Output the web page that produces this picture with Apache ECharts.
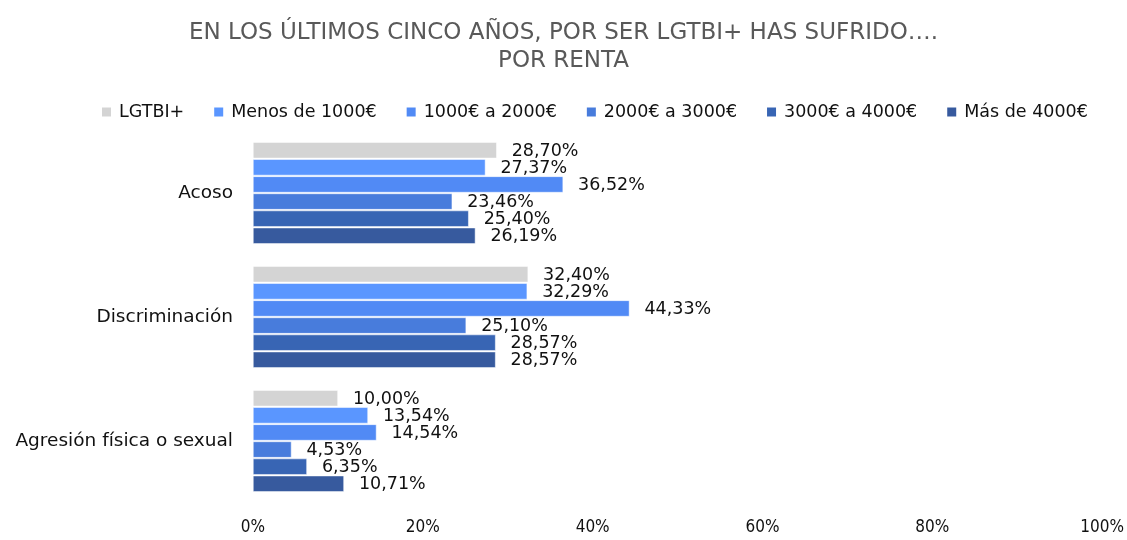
<!doctype html>
<html>
<head>
<meta charset="utf-8">
<script src="https://cdn.jsdelivr.net/npm/echarts@6/dist/echarts.min.js"></script>
<style>
  html, body { margin:0; padding:0; background:#fff; }
  #chart { width:1127px; height:540px; }
</style>
</head>
<body>
<div id="chart"></div>
<script>
const categories = ['Acoso', 'Discriminación', 'Agresión física o sexual'];
const seriesNames = ['LGTBI+', 'Menos de 1000€', '1000€ a 2000€', '2000€ a 3000€', '3000€ a 4000€', 'Más de 4000€'];
const lgtbi    = [28.70, 32.40, 10.00];
const menos1000 = [27.37, 32.29, 13.54];
const r1000_2000 = [36.52, 44.33, 14.54];
const r2000_3000 = [23.46, 25.10, 4.53];
const r3000_4000 = [25.40, 28.57, 6.35];
const mas4000  = [26.19, 28.57, 10.71];
const xTicks = [0, 20, 40, 60, 80, 100];

const colors = ['#d4d4d4', '#5a96ff', '#518af5', '#487cdc', '#3865b4', '#375a9e'];
const values = [lgtbi, menos1000, r1000_2000, r2000_3000, r3000_4000, mas4000];
const font = '"DejaVu Sans", sans-serif';
const fontC = '"DejaVu Sans Condensed", "DejaVu Sans", sans-serif';

const series = seriesNames.map((name, i) => ({
  name,
  type: 'bar',
  data: values[i],
  barGap: '6%',
  barCategoryGap: '18%',
  itemStyle: { color: colors[i], borderColor: '#fff', borderWidth: 0.5 },
  label: {
    show: true,
    position: 'right',
    distance: 15,
    offset: [0, 1],
    color: '#111',
    fontFamily: font,
    fontSize: 17.5,
    formatter: p => p.value.toFixed(2).replace('.', ',') + '%'
  }
}));

const chart = echarts.init(document.getElementById('chart'));
chart.setOption({
  animation: false,
  color: colors,
  title: {
    text: 'EN LOS ÚLTIMOS CINCO AÑOS, POR SER LGTBI+ HAS SUFRIDO….\nPOR RENTA',
    left: 'center',
    top: 14,
    textStyle: { color: '#595959', fontSize: 23, fontWeight: 'normal', fontFamily: font, lineHeight: 28 }
  },
  legend: {
    top: 98,
    left: 95,
    itemWidth: 11,
    itemHeight: 11,
    itemGap: 28,
    icon: 'rect',
    data: seriesNames,
    textStyle: { color: '#111', fontSize: 17.5, fontFamily: font, padding: [0, 0, 0, 2] }
  },
  grid: { left: 253, right: 24, top: 131, bottom: 37 },
  xAxis: {
    type: 'value',
    min: 0,
    max: 100,
    interval: 20,
    axisLine: { show: false },
    axisTick: { show: false },
    splitLine: { show: false },
    axisLabel: {
      margin: 16,
      color: '#111',
      fontSize: 17,
      fontFamily: fontC,
      formatter: v => xTicks.includes(v) ? v + '%' : ''
    }
  },
  yAxis: {
    type: 'category',
    data: categories,
    inverse: true,
    axisLine: { show: false },
    axisTick: { show: false },
    axisLabel: { margin: 20, color: '#111', fontSize: 18.5, fontFamily: font }
  },
  series
});
</script>
</body>
</html>
